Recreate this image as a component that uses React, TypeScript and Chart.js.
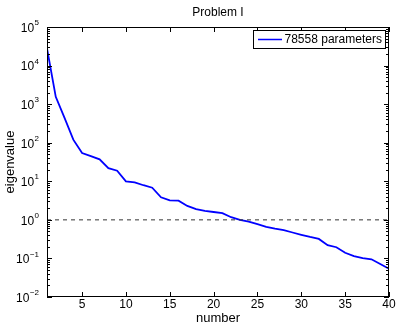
import React, { useEffect, useRef } from "react";
import { Chart, registerables } from "chart.js";

Chart.register(...registerables);

const numbers = [
  1, 2, 3, 4, 5, 6, 7, 8, 9, 10, 11, 12, 13, 14, 15, 16, 17, 18, 19, 20,
  21, 22, 23, 24, 25, 26, 27, 28, 29, 30, 31, 32, 33, 34, 35, 36, 37, 38, 39, 40,
];
const eigenvalues = [
  28000, 1550, 440, 120, 54, 45, 37, 22, 18.8, 10,
  9.4, 7.9, 6.8, 3.85, 3.2, 3.15, 2.3, 1.9, 1.7, 1.6,
  1.5, 1.17, 1.0, 0.9, 0.77, 0.66, 0.59, 0.54, 0.47, 0.41,
  0.36, 0.32, 0.22, 0.195, 0.14, 0.115, 0.102, 0.095, 0.072, 0.054,
];
const referenceLevel = 1;
const xTicks = [5, 10, 15, 20, 25, 30, 35, 40];
const yExponents = [-2, -1, 0, 1, 2, 3, 4, 5];
const seriesLabel = "78558 parameters";
const titleText = "Problem I";
const xTitle = "number";
const yTitle = "eigenvalue";

const FONT = "'Liberation Sans', Arial, Helvetica, sans-serif";

const axesPlugin = {
  id: "matlabAxes",
  afterDraw(chart: any) {
    const { ctx, chartArea } = chart;
    const { left, right, top, bottom } = chartArea;
    const xs = chart.scales.x;
    const ys = chart.scales.y;
    ctx.save();
    ctx.strokeStyle = "#000";
    ctx.lineWidth = 1;
    // frame
    ctx.strokeRect(Math.round(left) + 0.5, Math.round(top) + 0.5, Math.round(right - left) - 1, Math.round(bottom - top) - 1);
    ctx.beginPath();
    // x ticks
    xTicks.forEach((v) => {
      const px = Math.round(xs.getPixelForValue(v)) + 0.5;
      ctx.moveTo(px, bottom);
      ctx.lineTo(px, bottom - 5);
      ctx.moveTo(px, top);
      ctx.lineTo(px, top + 5);
    });
    // y ticks major and minor
    yExponents.forEach((e, i) => {
      const d = Math.pow(10, e);
      const py = Math.round(ys.getPixelForValue(d)) + 0.5;
      ctx.moveTo(left, py);
      ctx.lineTo(left + 5, py);
      ctx.moveTo(right, py);
      ctx.lineTo(right - 5, py);
      if (i < yExponents.length - 1) {
        for (let k = 2; k <= 9; k++) {
          const my = Math.round(ys.getPixelForValue(d * k)) + 0.5;
          ctx.moveTo(left, my);
          ctx.lineTo(left + 3, my);
          ctx.moveTo(right, my);
          ctx.lineTo(right - 3, my);
        }
      }
    });
    ctx.stroke();

    // x tick labels
    ctx.fillStyle = "#000";
    ctx.font = `12px ${FONT}`;
    ctx.textAlign = "center";
    ctx.textBaseline = "middle";
    xTicks.forEach((v) => {
      ctx.fillText(String(v), xs.getPixelForValue(v), bottom + 8);
    });

    // y tick labels 10^e
    yExponents.forEach((e) => {
      const py = ys.getPixelForValue(Math.pow(10, e));
      const base = "10";
      const sup = e < 0 ? "\u2212" + Math.abs(e) : String(e);
      ctx.font = `12px ${FONT}`;
      const wb = ctx.measureText(base).width;
      ctx.font = `8px ${FONT}`;
      const ws = ctx.measureText(sup).width;
      const xEnd = left - 8;
      const xStart = xEnd - wb - ws - 0.5;
      ctx.textAlign = "left";
      ctx.textBaseline = "middle";
      ctx.font = `12px ${FONT}`;
      ctx.fillText(base, xStart, py + 1.5);
      ctx.font = `8px ${FONT}`;
      ctx.fillText(sup, xStart + wb + 0.5, py - 4);
    });

    // legend
    const bx = 253.5, by = 30.5, bw = 132, bh = 18;
    ctx.fillStyle = "#fff";
    ctx.fillRect(bx, by, bw, bh);
    ctx.strokeStyle = "#000";
    ctx.lineWidth = 1;
    ctx.strokeRect(bx, by, bw, bh);
    ctx.strokeStyle = "#0000ff";
    ctx.lineWidth = 1.5;
    ctx.beginPath();
    ctx.moveTo(258, by + bh / 2);
    ctx.lineTo(282, by + bh / 2);
    ctx.stroke();
    ctx.fillStyle = "#000";
    ctx.font = `12px ${FONT}`;
    ctx.textAlign = "left";
    ctx.textBaseline = "middle";
    ctx.fillText(seriesLabel, 284.5, by + bh / 2 + 0.5);
    ctx.restore();
  },
};

export default function App() {
  const canvasRef = useRef<HTMLCanvasElement | null>(null);

  useEffect(() => {
    const canvas = canvasRef.current;
    if (!canvas) return;
    const chart = new Chart(canvas, {
      type: "line",
      data: {
        datasets: [
          {
            label: "reference",
            data: [
              { x: numbers[0], y: referenceLevel },
              { x: numbers[numbers.length - 1], y: referenceLevel },
            ],
            borderColor: "#333333",
            borderWidth: 1,
            borderDash: [4, 4],
            pointRadius: 0,
            fill: false,
          },
          {
            label: seriesLabel,
            data: numbers.map((n, i) => ({ x: n, y: eigenvalues[i] })),
            borderColor: "#0000ff",
            borderWidth: 1.8,
            pointRadius: 0,
            tension: 0,
            fill: false,
          },
        ],
      },
      options: {
        responsive: false,
        animation: false,
        devicePixelRatio: 1,
        layout: { padding: { left: 0, right: 10, top: 0, bottom: 0 } },
        plugins: {
          legend: { display: false },
          tooltip: { enabled: false },
          title: {
            display: true,
            text: titleText,
            fullSize: false,
            color: "#000",
            font: { family: FONT, size: 12, weight: "normal" },
            padding: { top: 5, bottom: 7.6 },
          },
        },
        scales: {
          x: {
            type: "linear",
            min: 1,
            max: 40,
            grid: { display: false },
            border: { display: false },
            ticks: { display: false },
            title: {
              display: true,
              text: xTitle,
              color: "#000",
              font: { family: FONT, size: 13 },
              padding: { top: 0, bottom: 3.5 },
            },
            afterFit: (scale: any) => {
              scale.height = 33;
            },
          },
          y: {
            type: "logarithmic",
            min: 0.01,
            max: 100000,
            grid: { display: false },
            border: { display: false },
            ticks: { display: false },
            title: {
              display: true,
              text: yTitle,
              color: "#000",
              font: { family: FONT, size: 13 },
              padding: { top: 2.5, bottom: 0 },
            },
            afterFit: (scale: any) => {
              scale.width = 47;
            },
          },
        },
      },
      plugins: [axesPlugin],
    } as any);
    return () => chart.destroy();
  }, []);

  return (
    <div style={{ position: "fixed", left: 0, top: 0, width: 399, height: 330, background: "#fff" }}>
      <canvas ref={canvasRef} width={399} height={330} />
    </div>
  );
}
